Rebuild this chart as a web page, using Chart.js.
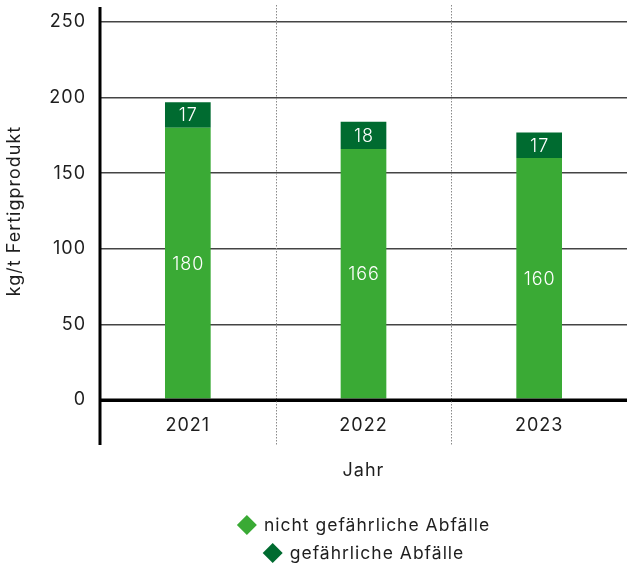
<!DOCTYPE html>
<html>
<head>
<meta charset="utf-8">
<script src="https://cdn.jsdelivr.net/npm/chart.js@4/dist/chart.umd.min.js"></script>
<style>
  html, body { margin: 0; padding: 0; background: #fff; }
  canvas { display: block; }
</style>
</head>
<body>
<canvas id="wasteChart" width="627" height="568"></canvas>
<script>
// data
const years = ['2021', '2022', '2023'];
const nonHazardous = [180, 166, 160];
const hazardous = [17, 18, 17];
const seriesNames = ['nicht gefährliche Abfälle', 'gefährliche Abfälle'];
const seriesColors = ['#3aaa35', '#006b30'];

const FONT = 'Inter, "Open Sans", sans-serif';
const TEXT = '#1e1e1e';

// the original font runs wide, so open the letters up a little
const wideText = {
    id: 'wideText',
    beforeUpdate(chart) { chart.ctx.letterSpacing = '1px'; },
    beforeDraw(chart) { chart.ctx.letterSpacing = '1px'; }
};

// axis frame: long y axis line, dotted separators between years, thick zero line
const frameLines = {
    id: 'frameLines',
    afterDatasetsDraw(chart) {
        const ctx = chart.ctx;
        const area = chart.chartArea;
        const x = chart.scales.x;
        const y = chart.scales.y;
        ctx.save();
        // dotted separators
        ctx.strokeStyle = '#8a8a8a';
        ctx.lineWidth = 1;
        ctx.setLineDash([1.5, 1.5]);
        for (let i = 0; i < years.length - 1; i++) {
            const px = Math.round((x.getPixelForValue(i) + x.getPixelForValue(i + 1)) / 2) + 0.5;
            ctx.beginPath();
            ctx.moveTo(px, 5);
            ctx.lineTo(px, 445);
            ctx.stroke();
        }
        ctx.setLineDash([]);
        // y axis
        ctx.strokeStyle = '#000';
        ctx.lineWidth = 3;
        ctx.beginPath();
        ctx.moveTo(area.left, 7);
        ctx.lineTo(area.left, 445);
        ctx.stroke();
        // zero line
        const y0 = y.getPixelForValue(0);
        ctx.beginPath();
        ctx.moveTo(area.left, y0);
        ctx.lineTo(area.right, y0);
        ctx.stroke();
        ctx.restore();
    }
};

// values inside the bar segments
const barLabels = {
    id: 'barLabels',
    afterDatasetsDraw(chart) {
        const ctx = chart.ctx;
        ctx.save();
        ctx.font = '300 18px ' + FONT;
        ctx.fillStyle = '#fff';
        ctx.textAlign = 'center';
        ctx.textBaseline = 'middle';
        chart.data.datasets.forEach((ds, di) => {
            chart.getDatasetMeta(di).data.forEach((bar, i) => {
                ctx.fillText(ds.data[i], bar.x + 0.5, (bar.y + bar.base) / 2 + 1);
            });
        });
        ctx.restore();
    }
};

// two-row centered legend with diamond markers
const diamondLegend = {
    id: 'diamondLegend',
    afterDraw(chart) {
        const ctx = chart.ctx;
        const area = chart.chartArea;
        const cx = (area.left + area.right) / 2;
        ctx.save();
        ctx.font = '17.5px ' + FONT;
        ctx.textAlign = 'left';
        ctx.textBaseline = 'middle';
        chart.data.datasets.forEach((ds, i) => {
            const yy = chart.height - 43 + i * 28;
            const tw = ctx.measureText(ds.label).width;
            const w = 20 + 7 + tw;
            const x0 = cx - w / 2;
            ctx.fillStyle = ds.backgroundColor;
            ctx.beginPath();
            ctx.moveTo(x0 + 10, yy - 10);
            ctx.lineTo(x0 + 20, yy);
            ctx.lineTo(x0 + 10, yy + 10);
            ctx.lineTo(x0, yy);
            ctx.closePath();
            ctx.fill();
            ctx.fillStyle = TEXT;
            ctx.fillText(ds.label, x0 + 27, yy + 1);
        });
        ctx.restore();
    }
};

const ctx = document.getElementById('wasteChart').getContext('2d');
new Chart(ctx, {
    type: 'bar',
    data: {
        labels: years,
        datasets: [
            { label: seriesNames[0], data: nonHazardous, backgroundColor: seriesColors[0] },
            { label: seriesNames[1], data: hazardous, backgroundColor: seriesColors[1] }
        ]
    },
    options: {
        responsive: false,
        animation: false,
        layout: { padding: { top: 22, bottom: 80, left: 0, right: 0 } },
        datasets: {
            bar: { barPercentage: 0.26, categoryPercentage: 1, borderWidth: 0 }
        },
        plugins: {
            legend: { display: false },
            tooltip: { enabled: false }
        },
        scales: {
            x: {
                stacked: true,
                grid: { display: false },
                border: { display: false },
                ticks: { color: TEXT, font: { family: FONT, size: 18 }, padding: 7 },
                title: { display: true, text: 'Jahr', color: TEXT, font: { family: FONT, size: 18 }, padding: { top: 0, bottom: 7 } },
                afterFit(scale) {
                    scale.height = 88;
                    scale.paddingLeft = 0;
                    scale.paddingRight = 0;
                }
            },
            y: {
                stacked: true,
                min: 0,
                max: 250,
                border: { display: false },
                grid: {
                    drawTicks: false,
                    color: c => c.tick.value === 0 ? '#000' : '#444',
                    lineWidth: c => c.tick.value === 0 ? 3 : 1.5
                },
                ticks: { stepSize: 50, color: TEXT, font: { family: FONT, size: 18 }, padding: 14 },
                title: { display: true, text: 'kg/t Fertigprodukt', color: TEXT, font: { family: FONT, size: 18 }, padding: { top: 4, bottom: 0 } },
                afterFit(scale) {
                    scale.width = 100;
                    scale.paddingTop = 0;
                    scale.paddingBottom = 0;
                }
            }
        }
    },
    plugins: [wideText, frameLines, barLabels, diamondLegend]
});
</script>
</body>
</html>
